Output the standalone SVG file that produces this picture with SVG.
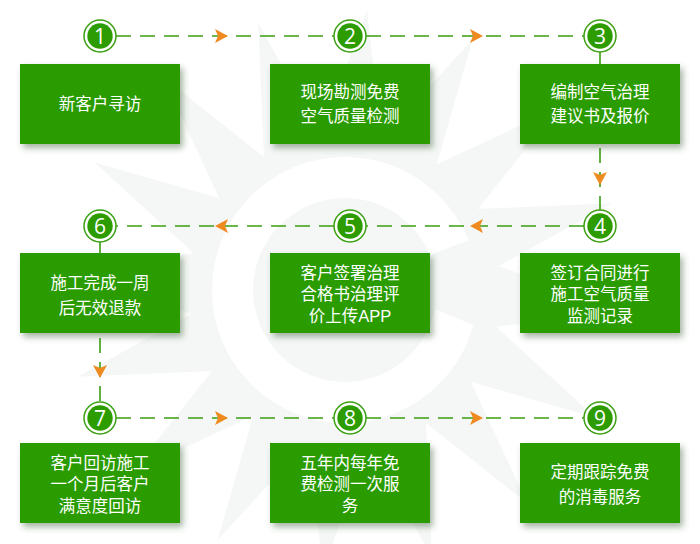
<svg xmlns="http://www.w3.org/2000/svg" xmlns:xlink="http://www.w3.org/1999/xlink" width="700" height="544" viewBox="0 0 700 544">
<style>
.box{fill:#2c9c00;filter:url(#sh)}
.t{font-family:"Liberation Sans","Noto Sans CJK SC",sans-serif;font-size:16.5px;fill:#ffffff;text-anchor:middle}
.n{font-family:"Open Sans","DejaVu Sans",sans-serif;font-size:21px;fill:#ffffff;text-anchor:middle}
.ring{fill:#ffffff;stroke:#3aa010;stroke-width:1.5}
.dot{fill:#2c9c00}
.ln{stroke:#3a9d12;stroke-width:1.6;stroke-dasharray:15 9;fill:none}
.ar{fill:#ee8a1f}
.wm{fill:#f5f7f6}
</style>
<defs>
<filter id="sh" x="-10%" y="-10%" width="130%" height="140%"><feDropShadow dx="3" dy="4" stdDeviation="3" flood-color="#3c5a30" flood-opacity="0.45"/></filter>
<path id="spike" d="M-40,-110 L22,-280 L42,-105 Z"/>
<polygon id="arr" points="-13,-7 0,0 -13,7 -10,0"/>
</defs>
<rect width="700" height="544" fill="#ffffff"/>
<g id="watermark" class="wm" transform="translate(345,290)">
<use xlink:href="#spike" transform="rotate(0)"/>
<use xlink:href="#spike" transform="rotate(22.5)"/>
<use xlink:href="#spike" transform="rotate(45)"/>
<use xlink:href="#spike" transform="rotate(67.5)"/>
<use xlink:href="#spike" transform="rotate(90)"/>
<use xlink:href="#spike" transform="rotate(112.5)"/>
<use xlink:href="#spike" transform="rotate(135)"/>
<use xlink:href="#spike" transform="rotate(157.5)"/>
<use xlink:href="#spike" transform="rotate(180)"/>
<use xlink:href="#spike" transform="rotate(202.5)"/>
<use xlink:href="#spike" transform="rotate(225)"/>
<use xlink:href="#spike" transform="rotate(247.5)"/>
<use xlink:href="#spike" transform="rotate(270)"/>
<use xlink:href="#spike" transform="rotate(292.5)"/>
<use xlink:href="#spike" transform="rotate(315)"/>
<use xlink:href="#spike" transform="rotate(337.5)"/>
<circle r="150"/>
<circle r="133" fill="#ffffff"/>
<circle r="92"/>
<path d="M20,-10 L150,-60 L140,40 Z"/>
</g>
<g id="connectors">
<line class="ln" x1="116" y1="36" x2="334" y2="36"/>
<line class="ln" x1="366" y1="36" x2="584" y2="36"/>
<line class="ln" x1="600" y1="52" x2="600" y2="210"/>
<line class="ln" x1="584" y1="226" x2="366" y2="226"/>
<line class="ln" x1="334" y1="226" x2="116" y2="226"/>
<line class="ln" x1="100" y1="242" x2="100" y2="402"/>
<line class="ln" x1="116" y1="418" x2="334" y2="418"/>
<line class="ln" x1="366" y1="418" x2="584" y2="418"/>
<use xlink:href="#arr" class="ar" transform="translate(228,36)"/>
<use xlink:href="#arr" class="ar" transform="translate(483,36)"/>
<use xlink:href="#arr" class="ar" transform="translate(600,185) rotate(90)"/>
<use xlink:href="#arr" class="ar" transform="translate(470,226) rotate(180)"/>
<use xlink:href="#arr" class="ar" transform="translate(215,226) rotate(180)"/>
<use xlink:href="#arr" class="ar" transform="translate(100,378) rotate(90)"/>
<use xlink:href="#arr" class="ar" transform="translate(228,418)"/>
<use xlink:href="#arr" class="ar" transform="translate(483,418)"/>
</g>
<g id="node1">
<circle class="ring" cx="100" cy="36" r="16"/><circle class="dot" cx="100" cy="36" r="12.7"/><text class="n" x="100" y="43.5">1</text>
<rect class="box" x="20" y="64" width="160" height="80"/>
<text class="t" x="100" y="110">新客户寻访</text>
</g>
<g id="node2">
<circle class="ring" cx="350" cy="36" r="16"/><circle class="dot" cx="350" cy="36" r="12.7"/><text class="n" x="350" y="43.5">2</text>
<rect class="box" x="270" y="64" width="160" height="80"/>
<text class="t" x="350" y="98">现场勘测免费</text>
<text class="t" x="350" y="122">空气质量检测</text>
</g>
<g id="node3">
<circle class="ring" cx="600" cy="36" r="16"/><circle class="dot" cx="600" cy="36" r="12.7"/><text class="n" x="600" y="43.5">3</text>
<rect class="box" x="520" y="64" width="160" height="80"/>
<text class="t" x="600" y="98">编制空气治理</text>
<text class="t" x="600" y="122">建议书及报价</text>
</g>
<g id="node4">
<circle class="ring" cx="600" cy="226" r="16"/><circle class="dot" cx="600" cy="226" r="12.7"/><text class="n" x="600" y="233.5">4</text>
<rect class="box" x="520" y="253" width="160" height="80"/>
<text class="t" x="600" y="278.5">签订合同进行</text>
<text class="t" x="600" y="300">施工空气质量</text>
<text class="t" x="600" y="321.5">监测记录</text>
</g>
<g id="node5">
<circle class="ring" cx="350" cy="226" r="16"/><circle class="dot" cx="350" cy="226" r="12.7"/><text class="n" x="350" y="233.5">5</text>
<rect class="box" x="270" y="253" width="160" height="80"/>
<text class="t" x="350" y="278.5">客户签署治理</text>
<text class="t" x="350" y="300">合格书治理评</text>
<text class="t" x="350" y="321.5">价上传APP</text>
</g>
<g id="node6">
<circle class="ring" cx="100" cy="226" r="16"/><circle class="dot" cx="100" cy="226" r="12.7"/><text class="n" x="100" y="233.5">6</text>
<rect class="box" x="20" y="253" width="160" height="80"/>
<text class="t" x="100" y="289">施工完成一周</text>
<text class="t" x="100" y="314">后无效退款</text>
</g>
<g id="node7">
<circle class="ring" cx="100" cy="418" r="16"/><circle class="dot" cx="100" cy="418" r="12.7"/><text class="n" x="100" y="425.5">7</text>
<rect class="box" x="20" y="443" width="160" height="80"/>
<text class="t" x="100" y="468.5">客户回访施工</text>
<text class="t" x="100" y="490">一个月后客户</text>
<text class="t" x="100" y="511.5">满意度回访</text>
</g>
<g id="node8">
<circle class="ring" cx="350" cy="418" r="16"/><circle class="dot" cx="350" cy="418" r="12.7"/><text class="n" x="350" y="425.5">8</text>
<rect class="box" x="270" y="443" width="160" height="80"/>
<text class="t" x="350" y="468.5">五年内每年免</text>
<text class="t" x="350" y="490">费检测一次服</text>
<text class="t" x="350" y="511.5">务</text>
</g>
<g id="node9">
<circle class="ring" cx="600" cy="418" r="16"/><circle class="dot" cx="600" cy="418" r="12.7"/><text class="n" x="600" y="425.5">9</text>
<rect class="box" x="520" y="443" width="160" height="80"/>
<text class="t" x="600" y="478">定期跟踪免费</text>
<text class="t" x="600" y="503">的消毒服务</text>
</g>
</svg>
